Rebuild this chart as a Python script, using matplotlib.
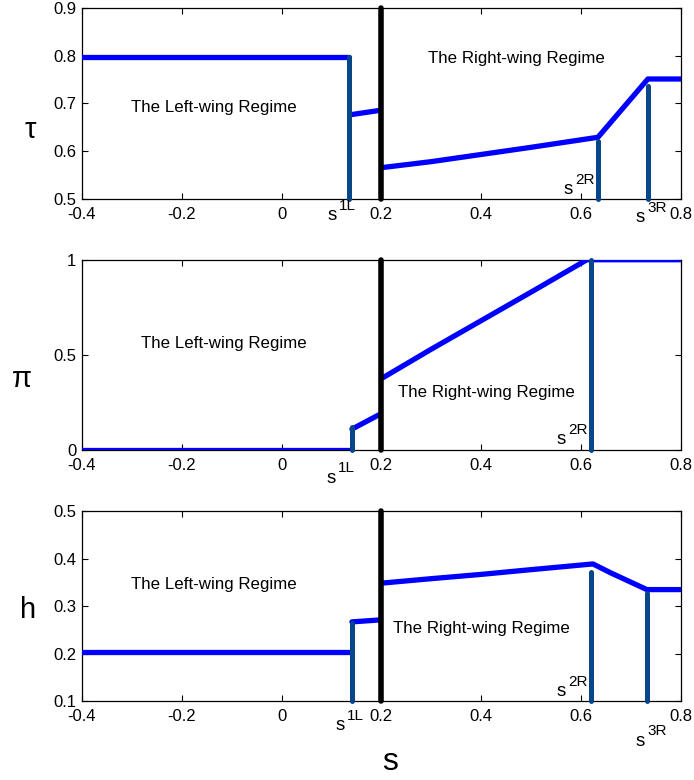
import numpy as np
import matplotlib
matplotlib.use("Agg")
import matplotlib.pyplot as plt

plt.rcParams['font.family'] = ['Liberation Sans', 'DejaVu Sans']

BLUE = '#0000ff'
DARK = '#08468a'
W, H = 694, 780

# ---- data ----
xticks = [-0.4, -0.2, 0, 0.2, 0.4, 0.6, 0.8]
xticklabels = ['-0.4', '-0.2', '0', '0.2', '0.4', '0.6', '0.8']
s_boundary = 0.2

# tau panel
tau_left_s = [-0.4, 0.135]
tau_left_v = [0.797, 0.797]
tau_mid_s = [0.137, 0.195]
tau_mid_v = [0.676, 0.685]
tau_right_s = [0.205, 0.30, 0.40, 0.50, 0.634, 0.734, 0.8]
tau_right_v = [0.566, 0.578, 0.593, 0.608, 0.629, 0.751, 0.751]
tau_marks_s = [0.135, 0.634, 0.734]
tau_marks_top = [0.797, 0.622, 0.736]

# pi panel
pi_left_s = [-0.4, 0.141]
pi_left_v = [0.0, 0.0]
pi_mid_s = [0.141, 0.195]
pi_mid_v = [0.11, 0.185]
pi_right_s = [0.203, 0.30, 0.40, 0.50, 0.612, 0.8]
pi_right_v = [0.38, 0.53, 0.68, 0.83, 1.0, 1.0]
pi_marks_s = [0.141, 0.620]
pi_marks_top = [0.12, 1.0]

# h panel
h_left_s = [-0.4, 0.138]
h_left_v = [0.203, 0.203]
h_mid_s = [0.141, 0.195]
h_mid_v = [0.267, 0.271]
h_right_s = [0.205, 0.30, 0.40, 0.50, 0.624, 0.66, 0.732, 0.8]
h_right_v = [0.349, 0.358, 0.367, 0.377, 0.389, 0.37, 0.335, 0.335]
h_marks_s = [0.141, 0.620, 0.732]
h_marks_top = [0.264, 0.372, 0.327]

fig = plt.figure(figsize=(6.94, 7.80), dpi=100)


def sup_label(xpix, ypix, sup):
    """'s' with a superscript, placed at pixel coords (centre of the 's')."""
    fig.text(xpix / W, 1 - ypix / H, 's', fontsize=13.5, ha='center', va='center')
    fig.text((xpix + 7) / W, 1 - (ypix - 10) / H, sup, fontsize=11, ha='left', va='center')


panels = [
    dict(rect=[0.118, 0.745, 0.863, 0.245], ylim=(0.5, 0.9), yticks=[0.5, 0.6, 0.7, 0.8, 0.9],
         yticklabels=['0.5', '0.6', '0.7', '0.8', '0.9'],
         segs=[(tau_left_s, tau_left_v), (tau_mid_s, tau_mid_v), (tau_right_s, tau_right_v)],
         marks=(tau_marks_s, tau_marks_top), ylabel='τ', ylab_xy=(30, 130),
         left_txt=(-0.302, 0.692), right_txt=(0.293, 0.793),
         sups=[(332, 216, '1L'), (568, 190, '2R'), (640, 218, '3R')]),
    dict(rect=[0.118, 0.423, 0.863, 0.244], ylim=(0.0, 1.0), yticks=[0, 0.5, 1],
         yticklabels=['0', '0.5', '1'],
         segs=[(pi_left_s, pi_left_v), (pi_mid_s, pi_mid_v), (pi_right_s, pi_right_v)],
         marks=(pi_marks_s, pi_marks_top), ylabel='π', ylab_xy=(22, 379),
         left_txt=(-0.282, 0.558), right_txt=(0.233, 0.30),
         sups=[(331, 478, '1L'), (561, 440, '2R')]),
    dict(rect=[0.118, 0.101, 0.863, 0.2436], ylim=(0.1, 0.5), yticks=[0.1, 0.2, 0.3, 0.4, 0.5],
         yticklabels=['0.1', '0.2', '0.3', '0.4', '0.5'],
         segs=[(h_left_s, h_left_v), (h_mid_s, h_mid_v), (h_right_s, h_right_v)],
         marks=(h_marks_s, h_marks_top), ylabel='h', ylab_xy=(28, 610),
         left_txt=(-0.302, 0.345), right_txt=(0.223, 0.254),
         sups=[(340, 726, '1L'), (561, 692, '2R'), (640, 741, '3R')]),
]

for p in panels:
    ax = fig.add_axes(p['rect'])
    ax.set_xlim(-0.4, 0.8)
    ax.set_ylim(*p['ylim'])
    ax.set_xticks(xticks)
    ax.set_xticklabels(xticklabels)
    ax.set_yticks(p['yticks'])
    ax.set_yticklabels(p['yticklabels'])
    ax.tick_params(direction='in', top=True, right=True, labelsize=12, length=4, width=0.8)
    ax.tick_params(axis='x', pad=5.5)
    ax.tick_params(axis='y', pad=4)
    for sp in ax.spines.values():
        sp.set_linewidth(0.9)
    y0, y1 = p['ylim']
    for xs, ys in p['segs']:
        ax.plot(xs, ys, color=BLUE, lw=3.8, solid_capstyle='round', zorder=3)
    ms, mt = p['marks']
    for xm, tm in zip(ms, mt):
        ax.plot([xm, xm], [y0, tm], color=DARK, lw=3.6, solid_capstyle='round', zorder=4, clip_on=False)
    ax.plot([s_boundary, s_boundary], [y0, y1], color='black', lw=4.0, solid_capstyle='round',
            zorder=5, clip_on=False)
    ax.text(p['left_txt'][0], p['left_txt'][1], 'The Left-wing Regime', fontsize=12.2,
            ha='left', va='center')
    ax.text(p['right_txt'][0], p['right_txt'][1], 'The Right-wing Regime', fontsize=12.2,
            ha='left', va='center')
    for xp, yp, sup in p['sups']:
        sup_label(xp, yp, sup)
    fig.text(p['ylab_xy'][0] / W, 1 - p['ylab_xy'][1] / H, p['ylabel'], fontsize=21,
             ha='center', va='center')

fig.text(390 / W, 1 - 762 / H, 's', fontsize=23, ha='center', va='center')

fig.savefig('out.png', dpi=100)
